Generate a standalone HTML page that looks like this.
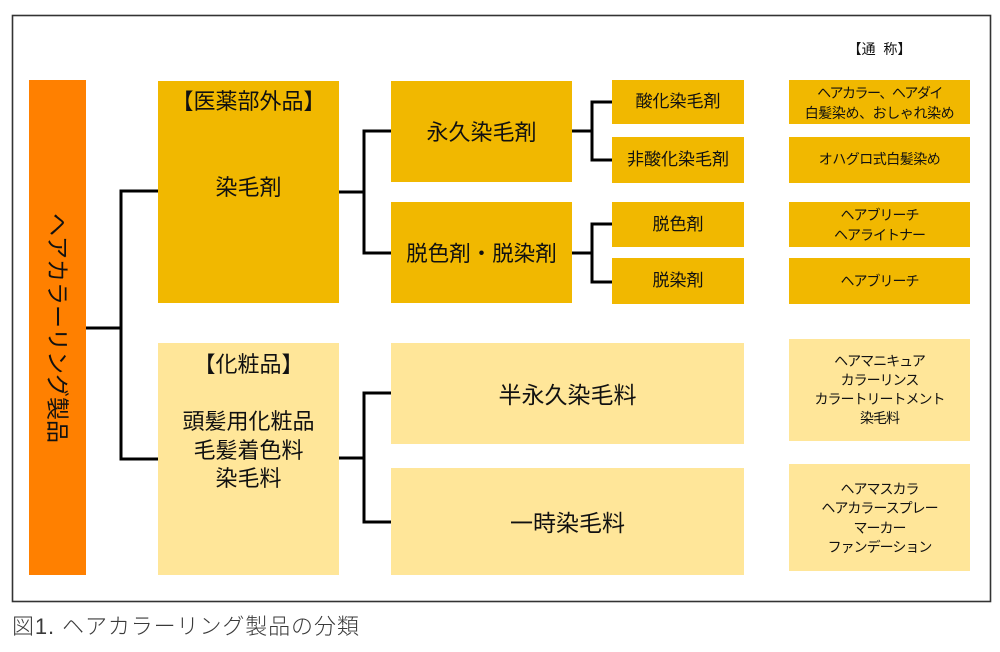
<!DOCTYPE html>
<html><head><meta charset="utf-8">
<style>
html,body{margin:0;padding:0;background:#fff;}
body{width:1000px;height:652px;position:relative;overflow:hidden;font-family:"Liberation Sans","Noto Sans CJK JP",sans-serif;color:#111;}
.b{position:absolute;}
.t{position:absolute;text-align:center;white-space:nowrap;}
.o{background:#FF8000;}
.g{background:#F1B800;}
.l{background:#FFE699;}
</style></head><body>
<svg class="b" style="left:0;top:0" width="1000" height="652">
<rect x="12.5" y="15.5" width="978" height="586" fill="none" stroke="#333" stroke-width="1.6"/>
</svg>

<div class="b o" style="left:29px;top:80px;width:57px;height:495px;"></div>
<div class="b g" style="left:158px;top:81px;width:181px;height:222px;"></div>
<div class="b l" style="left:158px;top:343px;width:181px;height:232px;"></div>
<div class="b g" style="left:391px;top:81px;width:181px;height:101px;"></div>
<div class="b g" style="left:391px;top:202px;width:181px;height:101px;"></div>
<div class="b l" style="left:391px;top:343px;width:353px;height:101px;"></div>
<div class="b l" style="left:391px;top:468px;width:353px;height:107px;"></div>

<div class="b g" style="left:612px;top:80px;width:132px;height:44px;"></div>
<div class="b g" style="left:612px;top:137px;width:132px;height:46px;"></div>
<div class="b g" style="left:612px;top:202px;width:132px;height:45px;"></div>
<div class="b g" style="left:612px;top:258px;width:132px;height:46px;"></div>

<div class="b g" style="left:789px;top:80px;width:181px;height:44px;"></div>
<div class="b g" style="left:789px;top:137px;width:181px;height:46px;"></div>
<div class="b g" style="left:789px;top:202px;width:181px;height:45px;"></div>
<div class="b g" style="left:789px;top:258px;width:181px;height:46px;"></div>
<div class="b l" style="left:789px;top:339px;width:181px;height:102px;"></div>
<div class="b l" style="left:789px;top:464px;width:181px;height:107px;"></div>

<svg class="b" style="left:0;top:0" width="1000" height="652">
<g fill="none" stroke="#000" stroke-width="3" stroke-linejoin="miter">
<path d="M86 328 H121"/>
<path d="M158 191 H121 V459 H158"/>
<path d="M339 192 H364"/>
<path d="M391 131 H364 V253 H391"/>
<path d="M572 131 H592"/>
<path d="M612 102 H592 V160 H612"/>
<path d="M572 253 H592"/>
<path d="M612 224 H592 V282 H612"/>
<path d="M339 458 H364"/>
<path d="M391 393 H364 V522 H391"/>
</g>
</svg>

<!-- vertical label (rotated sideways) -->
<div class="t" style="left:29px;top:80px;width:57px;height:495px;display:flex;align-items:center;justify-content:center;">
<div style="writing-mode:vertical-rl;text-orientation:sideways;font-size:23px;line-height:28px;">ヘアカラーリング製品</div>
</div>

<div class="t" style="left:158px;top:88px;width:181px;font-size:22px;line-height:28px;">【医薬部外品】</div>
<div class="t" style="left:158px;top:174px;width:181px;font-size:22px;line-height:28px;">染毛剤</div>

<div class="t" style="left:158px;top:351px;width:181px;font-size:22px;line-height:28px;">【化粧品】</div>
<div class="t" style="left:158px;top:408px;width:181px;font-size:22px;line-height:28.5px;">頭髪用化粧品<br>毛髪着色料<br>染毛料</div>

<div class="t" style="left:391px;top:119px;width:181px;font-size:22px;line-height:28px;">永久染毛剤</div>
<div class="t" style="left:391px;top:240px;width:181px;font-size:21.5px;line-height:28px;">脱色剤・脱染剤</div>
<div class="t" style="left:391px;top:381px;width:353px;font-size:23px;line-height:28px;">半永久染毛料</div>
<div class="t" style="left:391px;top:509px;width:353px;font-size:23px;line-height:28px;">一時染毛料</div>

<div class="t" style="left:612px;top:90px;width:132px;font-size:17px;line-height:24px;">酸化染毛剤</div>
<div class="t" style="left:612px;top:148px;width:132px;font-size:17px;line-height:24px;">非酸化染毛剤</div>
<div class="t" style="left:612px;top:213px;width:132px;font-size:17px;line-height:24px;">脱色剤</div>
<div class="t" style="left:612px;top:269px;width:132px;font-size:17px;line-height:24px;">脱染剤</div>

<div class="t" style="left:789px;top:38px;width:181px;font-size:14px;line-height:22px;">【通&nbsp;&nbsp;称】</div>
<div class="t" style="left:789px;top:83px;width:181px;font-size:14px;line-height:20px;"><span style="letter-spacing:-1.5px">ヘアカラー、ヘアダイ</span><br><span style="letter-spacing:-0.4px">白髪染め、おしゃれ染め</span></div>
<div class="t" style="left:789px;top:149px;width:181px;font-size:14px;line-height:20px;letter-spacing:-0.5px;">オハグロ式白髪染め</div>
<div class="t" style="left:789px;top:205px;width:181px;font-size:14px;line-height:20px;letter-spacing:-1px;">ヘアブリーチ<br>ヘアライトナー</div>
<div class="t" style="left:789px;top:271px;width:181px;font-size:14px;line-height:20px;letter-spacing:-1px;">ヘアブリーチ</div>
<div class="t" style="left:789px;top:352px;width:181px;font-size:14px;line-height:19px;letter-spacing:-1px;">ヘアマニキュア<br>カラーリンス<br>カラートリートメント<br>染毛料</div>
<div class="t" style="left:789px;top:480px;width:181px;font-size:14px;line-height:19.3px;letter-spacing:-1px;">ヘアマスカラ<br>ヘアカラースプレー<br>マーカー<br>ファンデーション</div>

<div class="t" style="left:12px;top:613px;text-align:left;font-size:22px;line-height:28px;color:#3a3a3a;letter-spacing:0.9px;font-weight:300;">図1. ヘアカラーリング製品の分類</div>
</body></html>
